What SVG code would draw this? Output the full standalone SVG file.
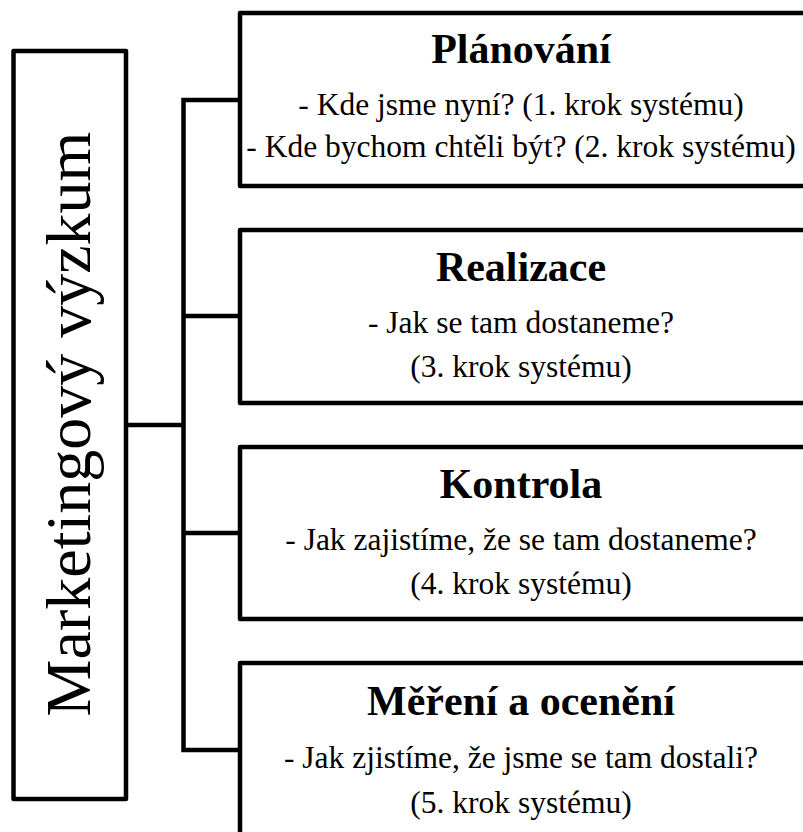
<svg xmlns="http://www.w3.org/2000/svg" width="803" height="832" viewBox="0 0 803 832">
<style>
.box{fill:#fff;stroke:#000;stroke-width:4.5;stroke-linejoin:round}
.con{fill:none;stroke:#000;stroke-width:4.5;stroke-linejoin:miter}
.t{font-family:"Liberation Serif","Times New Roman",serif;font-weight:bold;font-size:42px;text-anchor:middle;fill:#000}
.b{font-family:"Liberation Serif","Times New Roman",serif;font-size:31.5px;text-anchor:middle;fill:#000}
.v{font-family:"Liberation Serif","Times New Roman",serif;font-size:64px;text-anchor:middle;fill:#000}
</style>
<rect width="803" height="832" fill="#fff"/>
<g id="connectors">
<path class="con" d="M126,425 H183.5 M240,100 H183.5 V750 H240 M183.5,316 H240 M183.5,533 H240"/>
</g>
<g id="root">
<rect class="box" x="13.5" y="51" width="112.5" height="748"/>
<text class="v" transform="translate(90,424) rotate(-90)">Marketingový výzkum</text>
</g>
<g id="planovani">
<rect class="box" x="240" y="13" width="580" height="173"/>
<text class="t" x="521" y="63">Plánování</text>
<text class="b" x="521" y="115">- Kde jsme nyní? (1. krok systému)</text>
<text class="b" x="521" y="157">- Kde bychom chtěli být? (2. krok systému)</text>
</g>
<g id="realizace">
<rect class="box" x="240" y="230" width="580" height="173"/>
<text class="t" x="521" y="281">Realizace</text>
<text class="b" x="521" y="333">- Jak se tam dostaneme?</text>
<text class="b" x="521" y="377">(3. krok systému)</text>
</g>
<g id="kontrola">
<rect class="box" x="240" y="447" width="580" height="172"/>
<text class="t" x="521" y="498">Kontrola</text>
<text class="b" x="521" y="550">- Jak zajistíme, že se tam dostaneme?</text>
<text class="b" x="521" y="594">(4. krok systému)</text>
</g>
<g id="mereni">
<rect class="box" x="240" y="663" width="580" height="173"/>
<text class="t" x="521" y="715">Měření a ocenění</text>
<text class="b" x="521" y="768">- Jak zjistíme, že jsme se tam dostali?</text>
<text class="b" x="521" y="813">(5. krok systému)</text>
</g>
</svg>
